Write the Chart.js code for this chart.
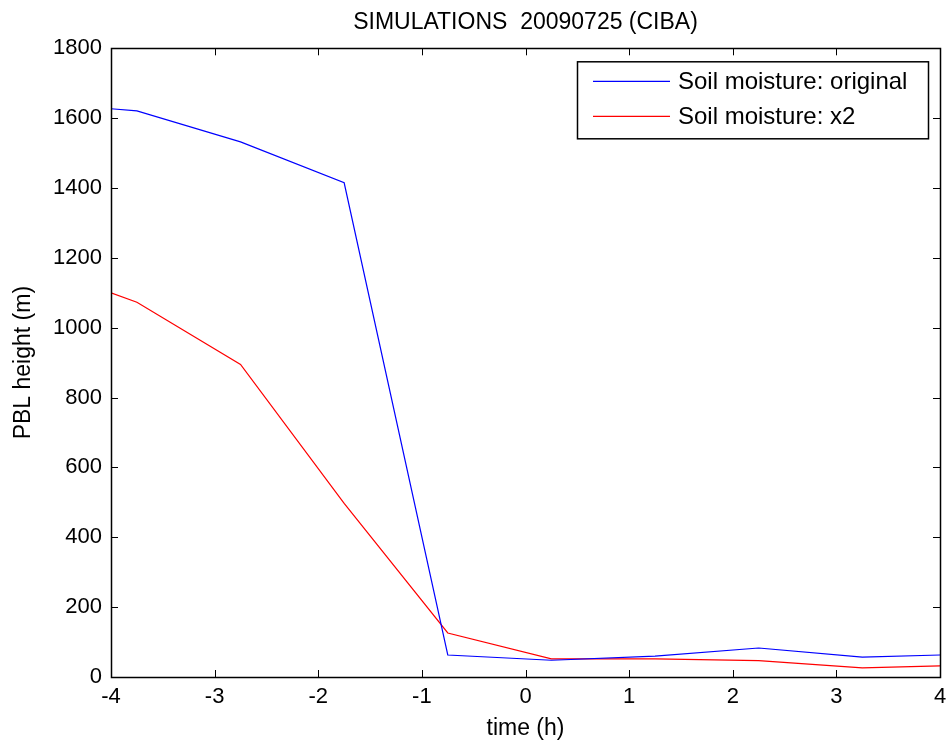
<!DOCTYPE html>
<html>
<head>
<meta charset="utf-8">
<title>SIMULATIONS 20090725 (CIBA)</title>
<script src="https://cdn.jsdelivr.net/npm/chart.js@4.4.1/dist/chart.umd.min.js"></script>
<style>
  html, body { margin: 0; padding: 0; background: #fff; }
  #wrap { width: 946px; height: 742px; }
</style>
</head>
<body>
<div id="wrap"><canvas id="myChart" width="946" height="742"></canvas></div>
<script>
// time (h) of each simulation output
const times = [-4, -3.75, -2.75, -1.75, -0.75, 0.25, 1.25, 2.25, 3.25, 4];
// PBL height (m)
const pblOriginal = [1627, 1621, 1532, 1415, 63, 48, 60, 83, 57, 63];
const pblDouble = [1100, 1073, 895, 497, 126, 52, 52, 47, 26, 32];

const seriesLabels = ['Soil moisture: original', 'Soil moisture: x2'];
const xTicks = [-4, -3, -2, -1, 0, 1, 2, 3, 4];
const yTicks = [0, 200, 400, 600, 800, 1000, 1200, 1400, 1600, 1800];

const FONT = 'Liberation Sans, Arial, Helvetica, sans-serif';

function toPoints(xs, ys) {
    return xs.map((x, i) => ({ x: x, y: ys[i] }));
}

// matlab style frame: box with inward ticks on all four sides
const framePlugin = {
    id: 'frame',
    afterDatasetsDraw(chart) {
        const ctx = chart.ctx;
        const a = chart.chartArea;
        const xs = chart.scales.x;
        const ys = chart.scales.y;
        const tl = 7;
        ctx.save();
        ctx.strokeStyle = '#000';
        ctx.lineWidth = 1;
        ctx.beginPath();
        xTicks.forEach(v => {
            const px = Math.round(xs.getPixelForValue(v)) + 0.5;
            ctx.moveTo(px, a.bottom); ctx.lineTo(px, a.bottom - tl);
            ctx.moveTo(px, a.top); ctx.lineTo(px, a.top + tl);
        });
        yTicks.forEach(v => {
            const py = Math.round(ys.getPixelForValue(v)) + 0.5;
            ctx.moveTo(a.left, py); ctx.lineTo(a.left + tl, py);
            ctx.moveTo(a.right, py); ctx.lineTo(a.right - tl, py);
        });
        ctx.stroke();
        ctx.lineWidth = 1.5;
        ctx.strokeRect(Math.round(a.left) + 0.5, Math.round(a.top) + 0.5,
            Math.round(a.right - a.left), Math.round(a.bottom - a.top));
        ctx.restore();
    }
};

// legend box in the upper right corner
const legendBoxPlugin = {
    id: 'legendBox',
    afterDraw(chart) {
        const ctx = chart.ctx;
        const a = chart.chartArea;
        const w = 351, h = 77;
        const x0 = a.right - 12 - w;
        const y0 = a.top + 13;
        ctx.save();
        ctx.fillStyle = '#fff';
        ctx.fillRect(x0, y0, w, h);
        ctx.strokeStyle = '#000';
        ctx.lineWidth = 1.5;
        ctx.strokeRect(x0 + 0.5, y0 + 0.5, w, h);
        ctx.font = '24px ' + FONT;
        ctx.textBaseline = 'middle';
        ctx.textAlign = 'left';
        chart.data.datasets.forEach((ds, i) => {
            const ly = y0 + 20 + i * 35;
            ctx.strokeStyle = ds.borderColor;
            ctx.lineWidth = 1.2;
            ctx.beginPath();
            ctx.moveTo(x0 + 16, ly);
            ctx.lineTo(x0 + 93, ly);
            ctx.stroke();
            ctx.fillStyle = '#000';
            ctx.fillText(ds.label, x0 + 101, ly + 1);
        });
        ctx.restore();
    }
};

const ctx = document.getElementById('myChart').getContext('2d');
const myChart = new Chart(ctx, {
    type: 'line',
    data: {
        datasets: [
            { label: seriesLabels[0], data: toPoints(times, pblOriginal), borderColor: '#0000ff', borderWidth: 1.2, pointRadius: 0, tension: 0 },
            { label: seriesLabels[1], data: toPoints(times, pblDouble), borderColor: '#ff0000', borderWidth: 1.2, pointRadius: 0, tension: 0 }
        ]
    },
    options: {
        responsive: false,
        animation: false,
        layout: { padding: { left: 0, right: 6, top: 0, bottom: 0 } },
        plugins: {
            legend: { display: false },
            tooltip: { enabled: false },
            title: {
                display: true,
                fullSize: false,
                text: 'SIMULATIONS  20090725 (CIBA)',
                color: '#000',
                font: { family: FONT, size: 23, weight: 'normal', lineHeight: 1.1 },
                padding: { top: 10, bottom: 13 }
            }
        },
        scales: {
            x: {
                type: 'linear',
                min: -4,
                max: 4,
                grid: { display: false, drawTicks: false },
                border: { display: false },
                afterBuildTicks(scale) { scale.ticks = xTicks.map(v => ({ value: v })); },
                afterFit(scale) { scale.height = 65; scale.paddingLeft = 0; scale.paddingRight = 0; },
                ticks: {
                    color: '#000',
                    padding: 7,
                    maxRotation: 0,
                    font: { family: FONT, size: 22 },
                    callback: v => String(v)
                },
                title: {
                    display: true,
                    text: 'time (h)',
                    color: '#000',
                    font: { family: FONT, size: 23 },
                    padding: { top: 0, bottom: 0 }
                }
            },
            y: {
                min: 0,
                max: 1800,
                grid: { display: false, drawTicks: false },
                border: { display: false },
                afterBuildTicks(scale) { scale.ticks = yTicks.map(v => ({ value: v })); },
                afterFit(scale) { scale.width = 111; },
                ticks: {
                    color: '#000',
                    padding: 9,
                    font: { family: FONT, size: 22 },
                    callback: v => String(v)
                },
                title: {
                    display: true,
                    text: 'PBL height (m)',
                    color: '#000',
                    font: { family: FONT, size: 23 },
                    padding: { top: 10, bottom: 0 }
                }
            }
        }
    },
    plugins: [framePlugin, legendBoxPlugin]
});
</script>
</body>
</html>
